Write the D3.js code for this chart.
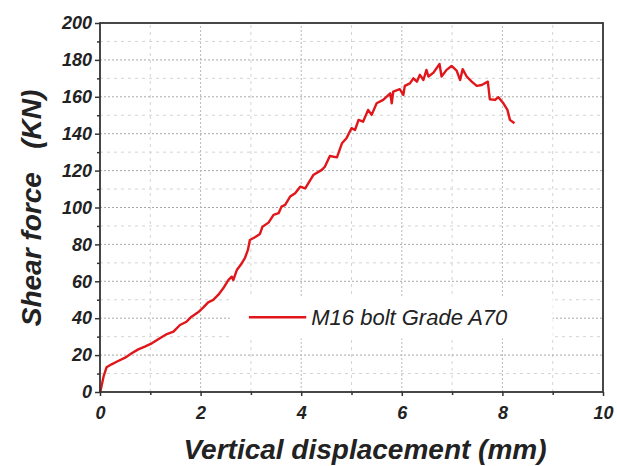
<!DOCTYPE html>
<html>
<head>
<meta charset="utf-8">
<script src="https://cdn.jsdelivr.net/npm/d3@7"></script>
<style>
  body { margin: 0; background: #fff; }
  svg { display: block; font-family: Arial, "Liberation Sans", sans-serif; }
</style>
</head>
<body>
<div id="chart"></div>
<script>
// displacement (mm) and shear force (kN)
let disp = [0, 0.01, 0.07, 0.13, 0.23, 0.33, 0.5, 0.63, 0.76, 0.89, 1.03, 1.19, 1.33, 1.46, 1.59, 1.72, 1.82, 1.95,
  2.05, 2.15, 2.25, 2.35, 2.45, 2.55, 2.62, 2.65, 2.72, 2.82, 2.88, 2.94, 2.98, 3.08, 3.18, 3.23, 3.35, 3.45,
  3.55, 3.61, 3.68, 3.78, 3.88, 3.98, 4.08, 4.24, 4.41, 4.47, 4.57, 4.71, 4.81, 4.9, 5.0, 5.07, 5.14, 5.23,
  5.33, 5.4, 5.5, 5.63, 5.77, 5.8, 5.83, 5.96, 6.03, 6.06, 6.16, 6.23, 6.3, 6.36, 6.43, 6.49, 6.53, 6.63,
  6.75, 6.79, 6.89, 6.99, 7.09, 7.16, 7.21, 7.29, 7.39, 7.49, 7.59, 7.71, 7.75, 7.85, 7.92, 8.02, 8.1, 8.15, 8.24]
let force = [0, 0.5, 8.3, 13.4, 15, 16.4, 18.6, 21, 23.1, 24.6, 26.4, 29.1, 31.4, 32.7, 36.3, 38.1, 40.8, 43.2,
  45.7, 48.6, 49.9, 52.6, 56.2, 60.7, 62.5, 60.7, 66.1, 69.8, 72.5, 77, 82.4, 83.9, 85.7, 89.6, 91.8, 96,
  96.9, 100.5, 101.4, 105.9, 107.7, 111.3, 110.4, 117.6, 120.4, 122.1, 127.9, 127.2, 134.8, 137.5, 143, 142, 147.5, 146.5,
  152.9, 150.2, 156.5, 158.3, 161.9, 156.5, 162.8, 164.1, 161, 165.9, 167.3, 170, 168.2, 171.9, 169.1, 174.6, 171, 173.1,
  177.8, 171, 174.6, 176.7, 174.2, 169.1, 175, 171, 168.2, 165.9, 166.4, 168.2, 158.7, 158.3, 159.8, 156.5, 152.9, 147.5, 145.7]

let xTicks = [0, 2, 4, 6, 8, 10]
let yTicks = [0, 20, 40, 60, 80, 100, 120, 140, 160, 180, 200]
let seriesName = "M16 bolt Grade A70"

function generateChart() {
  let width = 617, height = 466
  let margin = ({top: 23, right: 14, bottom: 74, left: 100})

  let x = d3.scaleLinear([0, 10], [margin.left, width - margin.right])
  let y = d3.scaleLinear([0, 200], [height - margin.bottom, margin.top])

  let data = disp.map((d, i) => ({disp: d, force: force[i]}))

  const svg = d3.create("svg")
    .attr("width", width)
    .attr("height", height)
    .attr("viewBox", [0, 0, width, height])
    .style("background", "white")

  // grid, minor then major
  let grid = svg.append("g")
  grid.selectAll(".hmin")
    .data(d3.range(10, 200, 20))
    .join("line")
    .attr("x1", x(0)).attr("x2", x(10))
    .attr("y1", d => y(d)).attr("y2", d => y(d))
    .attr("stroke", "#d4d4d4").attr("stroke-dasharray", "3,4")
  grid.selectAll(".vmin")
    .data(d3.range(1, 10, 2))
    .join("line")
    .attr("x1", d => x(d)).attr("x2", d => x(d))
    .attr("y1", y(0)).attr("y2", y(200))
    .attr("stroke", "#d4d4d4").attr("stroke-dasharray", "3,4")
  grid.selectAll(".hmaj")
    .data(yTicks.slice(1, -1))
    .join("line")
    .attr("x1", x(0)).attr("x2", x(10))
    .attr("y1", d => y(d)).attr("y2", d => y(d))
    .attr("stroke", "#a8a8a8").attr("stroke-dasharray", "2,2")
  grid.selectAll(".vmaj")
    .data(xTicks.slice(1, -1))
    .join("line")
    .attr("x1", d => x(d)).attr("x2", d => x(d))
    .attr("y1", y(0)).attr("y2", y(200))
    .attr("stroke", "#b8b8b8").attr("stroke-dasharray", "2,2")

  // legend box hides grid behind it
  svg.append("rect")
    .attr("x", x(2.58)).attr("y", y(51))
    .attr("width", x(9.0) - x(2.58)).attr("height", y(29) - y(51))
    .attr("fill", "white")

  // curve
  let line = d3.line().x(d => x(d.disp)).y(d => y(d.force))
  svg.append("path")
    .datum(data)
    .attr("fill", "none")
    .attr("stroke", "#e0161b")
    .attr("stroke-width", 2.4)
    .attr("stroke-linejoin", "round")
    .attr("d", line)

  // legend
  svg.append("line")
    .attr("x1", x(2.96)).attr("x2", x(4.1))
    .attr("y1", y(40.5)).attr("y2", y(40.5))
    .attr("stroke", "#e0161b").attr("stroke-width", 2.4)
  svg.append("text")
    .attr("x", x(4.2)).attr("y", y(40.5) + 8)
    .attr("font-size", 22).attr("font-style", "italic").attr("fill", "#222")
    .text(seriesName)

  // frame
  svg.append("rect")
    .attr("x", x(0)).attr("y", y(200))
    .attr("width", x(10) - x(0)).attr("height", y(0) - y(200))
    .attr("fill", "none").attr("stroke", "#333").attr("stroke-width", 1.8)

  let tickFont = g => g
    .call(g => g.select(".domain").remove())
    .call(g => g.selectAll("text")
      .attr("font-size", 18).attr("font-weight", "bold").attr("font-style", "italic")
      .attr("font-family", "Arial, 'Liberation Sans', sans-serif").attr("fill", "#222"))
    .call(g => g.selectAll("line").attr("stroke", "#333").attr("stroke-width", 1.5))

  svg.append("g")
    .attr("transform", `translate(0,${y(0)})`)
    .call(d3.axisBottom(x).tickValues(xTicks).tickSize(4).tickPadding(10).tickFormat(d3.format("d")))
    .call(tickFont)
  svg.append("g")
    .attr("transform", `translate(0,${y(0)})`)
    .call(d3.axisBottom(x).tickValues(d3.range(1, 10, 2)).tickSize(3).tickFormat(""))
    .call(tickFont)

  svg.append("g")
    .attr("transform", `translate(${x(0)},0)`)
    .call(d3.axisLeft(y).tickValues(yTicks).tickSize(5).tickPadding(3))
    .call(tickFont)
  svg.append("g")
    .attr("transform", `translate(${x(0)},0)`)
    .call(d3.axisLeft(y).tickValues(d3.range(10, 200, 20)).tickSize(3).tickFormat(""))
    .call(tickFont)

  // axis titles
  svg.append("text")
    .attr("x", 365).attr("y", 459)
    .attr("text-anchor", "middle")
    .attr("font-size", 28).attr("font-weight", "bold").attr("font-style", "italic").attr("fill", "#222")
    .text("Vertical displacement (mm)")
  svg.append("text")
    .attr("transform", "translate(41,208) rotate(-90)")
    .attr("text-anchor", "middle")
    .attr("font-size", 28).attr("font-weight", "bold").attr("font-style", "italic").attr("fill", "#222")
    .attr("xml:space", "preserve")
    .style("white-space", "pre")
    .text("Shear force   (KN)")

  return svg.node()
}

d3.select("#chart").append(generateChart)
</script>
</body>
</html>
